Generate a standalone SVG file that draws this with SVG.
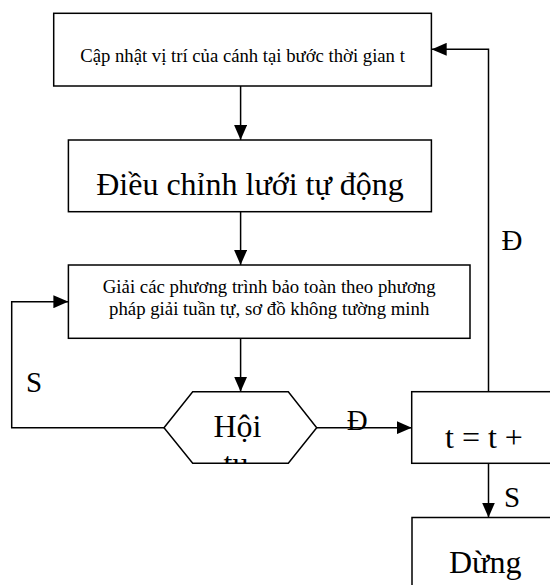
<svg xmlns="http://www.w3.org/2000/svg" width="550" height="585" viewBox="0 0 550 585">
<style>
.box{fill:#fff;stroke:#000;stroke-width:1.5}
.con{fill:none;stroke:#000;stroke-width:1.5}
.sm{font-size:18.7px}
.md{font-size:18.8px}
.lg{font-size:32px}
.lbl{font-size:29px}
</style>
<defs>
<marker id="ah" viewBox="0 0 15 13" refX="15" refY="6.5" markerWidth="15" markerHeight="13" markerUnits="userSpaceOnUse" orient="auto">
<path d="M0,0 L15,6.5 L0,13 z" fill="#000"/>
</marker>
<clipPath id="hexclip"><rect x="164" y="391.7" width="153" height="71.6"/></clipPath>
</defs>
<rect width="550" height="585" fill="#fff"/>
<g font-family="Liberation Serif, serif" fill="#000">
<g id="connectors">
<path class="con" d="M240.6,86 V140" marker-end="url(#ah)"/>
<path class="con" d="M240.6,211.7 V265" marker-end="url(#ah)"/>
<path class="con" d="M240.6,338.3 V391.7" marker-end="url(#ah)"/>
<path class="con" d="M316.7,427.7 H411.7" marker-end="url(#ah)"/>
<path class="con" d="M164,427.7 H11.7 V301.7 H68.4" marker-end="url(#ah)"/>
<path class="con" d="M488.5,391.7 V49.3 H431.7" marker-end="url(#ah)"/>
<path class="con" d="M488.5,463.3 V517.5" marker-end="url(#ah)"/>
<text class="lbl" font-family="Liberation Serif, serif" x="26" y="391.7">S</text>
<text class="lbl" font-family="Liberation Serif, serif" x="346.7" y="430">Đ</text>
<text class="lbl" font-family="Liberation Serif, serif" x="501.5" y="250">Đ</text>
<text class="lbl" font-family="Liberation Serif, serif" x="504" y="506.7">S</text>
</g>
<g id="update">
<rect class="box" x="53.7" y="13.3" width="377.7" height="72.7"/>
<text class="sm" font-family="Liberation Serif, serif" x="242.5" y="62" text-anchor="middle">Cập nhật vị trí của cánh tại bước thời gian t</text>
</g>
<g id="mesh">
<rect class="box" x="68.4" y="140" width="363" height="71.7"/>
<text class="lg" font-family="Liberation Serif, serif" x="250" y="195" text-anchor="middle">Điều chỉnh lưới tự động</text>
</g>
<g id="solve">
<rect class="box" x="68.4" y="265" width="401.6" height="73.3"/>
<text class="md" font-family="Liberation Serif, serif" x="269.2" y="292.7" text-anchor="middle">Giải các phương trình bảo toàn theo phương</text>
<text class="md" font-family="Liberation Serif, serif" x="269.2" y="315" text-anchor="middle">pháp giải tuần tự, sơ đồ không tường minh</text>
</g>
<g id="converge">
<polygon class="box" points="164,427.7 192.7,391.7 288.3,391.7 316.7,427.7 288.3,463.3 192.7,463.3"/>
<g clip-path="url(#hexclip)">
<text class="lg" font-family="Liberation Serif, serif" x="237.4" y="436.7" text-anchor="middle">Hội</text>
<text class="lg" font-family="Liberation Serif, serif" x="236" y="474" text-anchor="middle">tụ</text>
</g>
</g>
<g id="step">
<rect class="box" x="411.7" y="391.7" width="200" height="71.6"/>
<text class="lg" font-family="Liberation Serif, serif" x="445" y="448.3">t = t +</text>
</g>
<g id="stop">
<rect class="box" x="412" y="517.5" width="200" height="100"/>
<text class="lg" font-family="Liberation Serif, serif" x="449" y="573">Dừng</text>
</g>
</g>
</svg>
